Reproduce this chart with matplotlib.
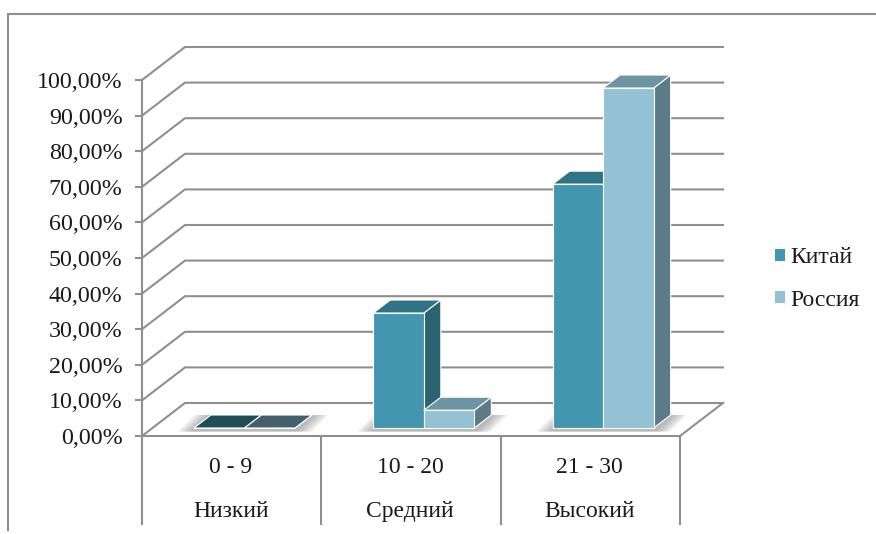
import matplotlib
matplotlib.use('Agg')
import matplotlib.pyplot as plt
from matplotlib.lines import Line2D
from matplotlib.patches import Patch

plt.rcParams['font.family'] = ['Liberation Serif', 'DejaVu Serif']

ranges = ['0 - 9', '10 - 20', '21 - 30']
levels = ['Низкий', 'Средний', 'Высокий']
china = [0.0, 32.3, 68.5]
russia = [0.0, 5.0, 95.5]
y_ticks = [0, 10, 20, 30, 40, 50, 60, 70, 80, 90, 100]

W, H = 876, 534
GREY = '#8f8f8f'
LW = 1.5

# colours: front, side, top, top when the bar is flat
CHINA_COL = ('#4296b0', '#2a6473', '#2f7386', '#1f4e59')
RUSSIA_COL = ('#93c2d5', '#5d7b87', '#6c94a3', '#44606a')

fig = plt.figure(figsize=(W / 100, H / 100), dpi=100)
ax = fig.add_axes([142 / W, 1 - 436 / H, (680 - 142) / W, (436 - 80) / H])
ax.set_xlim(0, 3)
ax.set_ylim(0, 100)
ax.patch.set_visible(False)

# depth of the fake 3d box, in data units
px_x = 3 / (680 - 142)
px_y = 100 / (436 - 80)
depth_x = 43 * px_x
depth_y = 33 * px_y
bar_dx = 17 * px_x
bar_dy = 13 * px_y
base_y = 8 * px_y
offset = 52 * px_x
bar_w = 50.5 * px_x

for sp in ['top', 'right', 'bottom']:
    ax.spines[sp].set_visible(False)
ax.spines['left'].set_color(GREY)
ax.spines['left'].set_linewidth(LW)

ax.set_xticks([])
ax.set_yticks(y_ticks)
ax.set_yticklabels(['%d,00%%' % t for t in y_ticks], fontsize=17.3, color='#1a1a1a')
ax.tick_params(axis='y', length=5, width=LW, color=GREY, pad=9)

# walls
for t in y_ticks:
    ax.plot([0, depth_x, 3 + depth_x], [t, t + depth_y, t + depth_y], color=GREY, lw=LW,
            clip_on=False, zorder=1, solid_joinstyle='miter')
ax.plot([0, 3, 3 + depth_x], [0, 0, depth_y], color=GREY, lw=LW, clip_on=False, zorder=1)

# category separators and labels below the floor
for i in range(4):
    ax.plot([i, i], [0, -88 * px_y], color=GREY, lw=LW, clip_on=False, zorder=1)
for i in range(3):
    ax.annotate(ranges[i], (i + 0.5, 0), xycoords=('data', 'axes fraction'), xytext=(-0.5, -37 * 0.72),
                textcoords='offset points', ha='center', va='baseline', fontsize=17, color='#1a1a1a')
    ax.annotate(levels[i], (i + 0.5, 0), xycoords=('data', 'axes fraction'), xytext=(-0.5, -81 * 0.72),
                textcoords='offset points', ha='center', va='baseline', fontsize=17, color='#1a1a1a')


def draw_bar(x, v, cols, z):
    y0 = base_y
    y1 = base_y + v
    x1 = x + bar_w
    ax.fill([x1, x1 + bar_dx, x1 + bar_dx, x1], [y0, y0 + bar_dy, y1 + bar_dy, y1], facecolor=cols[1],
            edgecolor='white', lw=0.8, clip_on=False, zorder=z)
    top = cols[3] if v == 0 else cols[2]
    ax.fill([x, x1, x1 + bar_dx, x + bar_dx], [y1, y1, y1 + bar_dy, y1 + bar_dy], facecolor=top,
            edgecolor='white', lw=0.8, clip_on=False, zorder=z)
    ax.bar(x, v, bar_w, bottom=y0, align='edge', color=cols[0], edgecolor='white', lw=0.8, zorder=z + 0.1)


for i in range(3):
    x = i + offset
    # soft shadow under the pair of bars
    for k in range(5):
        g = (5 - k) * 3.2 * px_x
        ax.fill([x - g, x + 2 * bar_w + g, x + 2 * bar_w + bar_dx + g, x + bar_dx - g],
                [base_y - 1.0, base_y - 1.0, base_y + bar_dy, base_y + bar_dy],
                facecolor='#777777', alpha=0.13, edgecolor='none', zorder=1.5, clip_on=False)
    draw_bar(x, china[i], CHINA_COL, 2)
    draw_bar(x + bar_w, russia[i], RUSSIA_COL, 3)

# outer chart frame, cut off by the picture on the right
fig.add_artist(Line2D([8 / W, 8 / W, 1], [1 - 530 / H, 1 - 14 / H, 1 - 14 / H], color=GREY, lw=LW,
                      solid_joinstyle='miter'))

handles = [Patch(facecolor=CHINA_COL[0], edgecolor='none'), Patch(facecolor=RUSSIA_COL[0], edgecolor='none')]
fig.legend(handles, ['Китай', 'Россия'], loc='center left', bbox_to_anchor=(754 / W, 1 - 279 / H), frameon=False,
           fontsize=17, labelcolor='#1a1a1a', handlelength=0.43, handleheight=0.43, handletextpad=0.2,
           labelspacing=0.9)

fig.savefig('out.png', dpi=100)
